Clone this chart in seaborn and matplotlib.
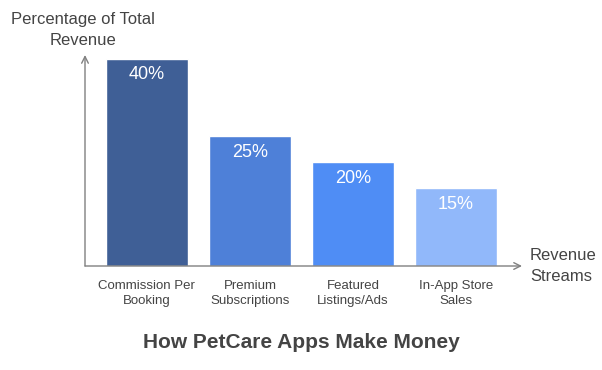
import matplotlib
matplotlib.use("Agg")
import matplotlib.pyplot as plt
import seaborn as sns
import pandas as pd

# chart data
streams = ["Commission Per\nBooking", "Premium\nSubscriptions",
           "Featured\nListings/Ads", "In-App Store\nSales"]
shares = [40, 25, 20, 15]
bar_colors = ["#3f5f96", "#4e80d8", "#4f8df5", "#91b8fa"]

TEXT = "#444444"
AXIS = "#808080"

sns.set_theme(style="white")
plt.rcParams["font.family"] = ["Liberation Sans", "DejaVu Sans"]

df = pd.DataFrame({"stream": streams, "share": shares})

fig = plt.figure(figsize=(6.02, 3.70), dpi=100)
ax = fig.add_axes([85 / 602, 1 - 266 / 370, 437 / 602, 211 / 370])

sns.barplot(data=df, x="stream", y="share", hue="stream", palette=bar_colors,
            width=0.8, saturation=1, legend=False, ax=ax)

ax.set_xlim(-0.6, 3.64)
ax.set_ylim(0, 40.7)

for i, v in enumerate(shares):
    ax.text(i, v - 3.1, f"{v}%", ha="center", va="center",
            color="white", fontsize=13)

for s in ax.spines.values():
    s.set_visible(False)

# axis arrows
arrow = dict(arrowstyle="->", color=AXIS, lw=1, shrinkA=0, shrinkB=0)
ax.annotate("", xy=(1, 0), xytext=(0, 0), xycoords="axes fraction",
            textcoords="axes fraction", arrowprops=arrow, annotation_clip=False)
ax.annotate("", xy=(0, 1), xytext=(0, 0), xycoords="axes fraction",
            textcoords="axes fraction", arrowprops=arrow, annotation_clip=False)

ax.set_yticks([])
ax.set_xlabel("")
ax.set_ylabel("")
ax.tick_params(axis="x", length=0, pad=10, labelsize=9.5, labelcolor=TEXT)
for lbl in ax.get_xticklabels():
    lbl.set_linespacing(1.3)

fig.text(83 / 602, 1 - 30 / 370, "Percentage of Total\nRevenue", ha="center",
         va="center", fontsize=12, color=TEXT, linespacing=1.45)
fig.text(530 / 602, 1 - 266 / 370, "Revenue\nStreams", ha="left",
         va="center", fontsize=12, color=TEXT, linespacing=1.45)
fig.text(0.5, 1 - 343 / 370, "How PetCare Apps Make Money", ha="center",
         va="center", fontsize=15, fontweight="bold", color=TEXT)

fig.savefig("out.png", dpi=100, facecolor="white")
